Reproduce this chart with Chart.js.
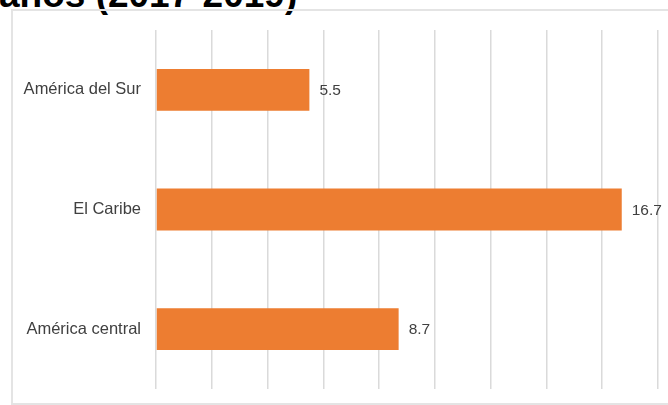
<!DOCTYPE html>
<html>
<head>
<meta charset="utf-8">
<script src="https://cdn.jsdelivr.net/npm/chart.js@4/dist/chart.umd.min.js"></script>
<style>
  html, body { margin: 0; padding: 0; background: #fff; overflow: hidden; }
  body { width: 668px; height: 405px; position: relative; }
  #title {
    position: absolute; left: -1px; top: -24px;
    font: bold 37px "Liberation Sans", Arial, sans-serif;
    line-height: 37px; color: #000; white-space: nowrap;
  }
  #frame {
    position: absolute; left: 11px; top: 9px; width: 700px; height: 392px;
    border: 2px solid #e4e4e4;
  }
  #wrap { position: absolute; left: 13px; top: 11px; width: 660px; height: 390px; }
</style>
</head>
<body>
<div id="title">años (2017-2019)</div>
<div id="frame"></div>
<div id="wrap"><canvas id="chart"></canvas></div>
<script>
const regions = ['América del Sur', 'El Caribe', 'América central'];
const values = [5.5, 16.7, 8.7];
const axisMax = 18;
const axisStep = 2;

const barColor = '#ED7D31';
const textColor = '#404040';
const fontFamily = '"Liberation Sans", Arial, sans-serif';

// draws the number right after the end of each bar
const valueLabels = {
  id: 'valueLabels',
  afterDatasetsDraw(chart) {
    const ctx = chart.ctx;
    const meta = chart.getDatasetMeta(0);
    ctx.save();
    ctx.font = '15.5px ' + fontFamily;
    ctx.fillStyle = textColor;
    ctx.textAlign = 'left';
    ctx.textBaseline = 'middle';
    meta.data.forEach((bar, i) => {
      ctx.fillText(String(values[i]), bar.x + 10, bar.y + 1);
    });
    ctx.restore();
  }
};

const ctx = document.getElementById('chart').getContext('2d');
new Chart(ctx, {
  type: 'bar',
  data: {
    labels: regions,
    datasets: [{
      data: values,
      backgroundColor: barColor,
      borderWidth: 0,
      barPercentage: 0.7,
      categoryPercentage: 0.5
    }]
  },
  options: {
    indexAxis: 'y',
    responsive: true,
    maintainAspectRatio: false,
    animation: false,
    layout: { padding: { top: 19, right: 15, bottom: 12, left: 0 } },
    plugins: { legend: { display: false }, tooltip: { enabled: false }, title: { display: false } },
    scales: {
      x: {
        min: 0,
        max: axisMax,
        ticks: { display: false, stepSize: axisStep },
        grid: { color: '#dadada', lineWidth: 1.5, drawTicks: false },
        border: { display: false },
        afterFit(scale) { scale.height = 0; }
      },
      y: {
        ticks: {
          color: textColor,
          padding: 15,
          font: { family: fontFamily, size: 16.5 }
        },
        grid: { display: false, drawTicks: false },
        border: { display: false },
        afterFit(scale) {
          scale.width = 143;
          scale.paddingTop = 0;
          scale.paddingBottom = 0;
        }
      }
    }
  },
  plugins: [valueLabels]
});
</script>
</body>
</html>
